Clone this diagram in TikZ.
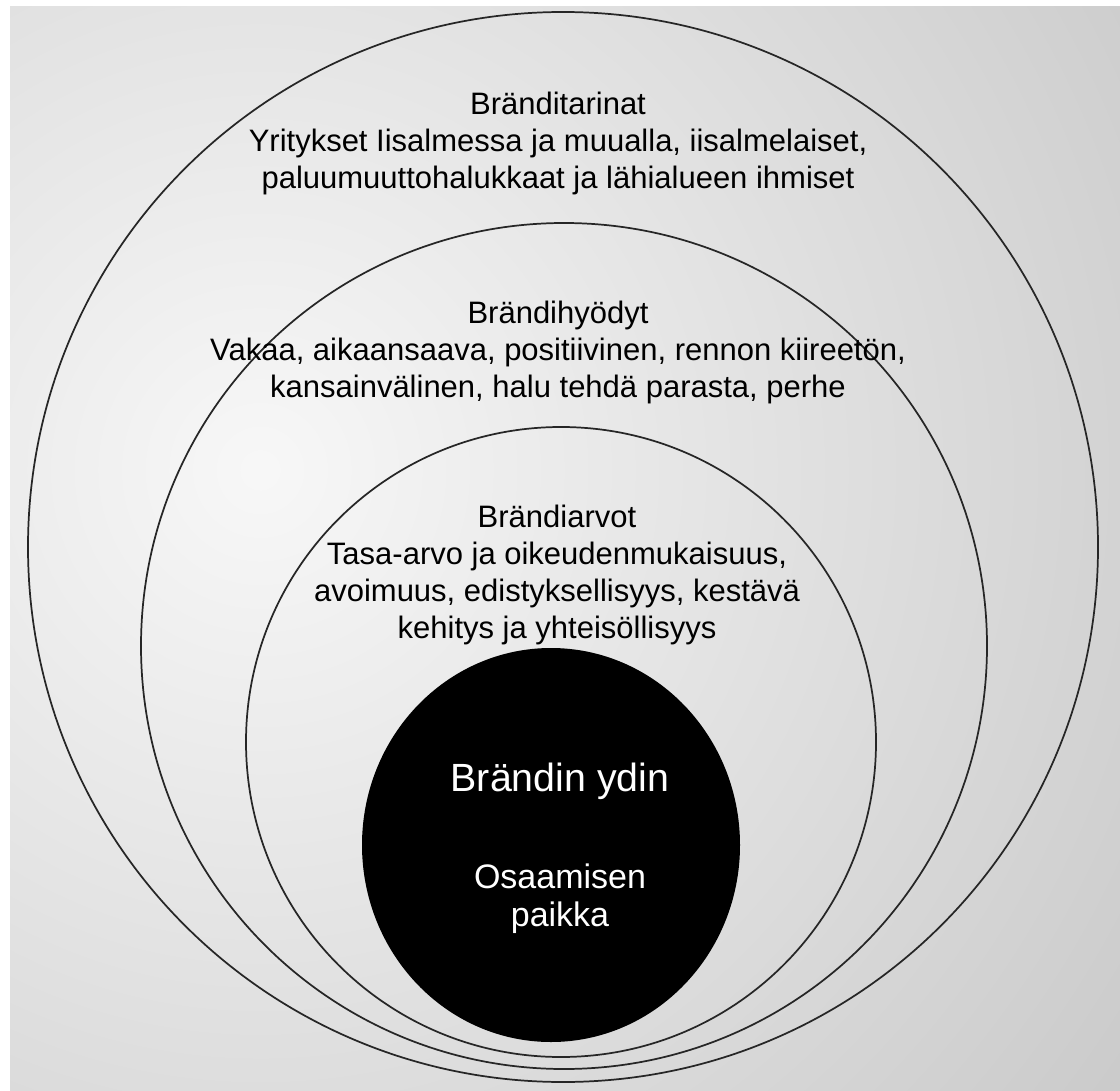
\documentclass[tikz,border=0pt]{standalone}
\usepackage{fontspec}
\setmainfont{Liberation Sans}
\begin{document}
\begin{tikzpicture}[x=0.75pt,y=-0.75pt,
  ring/.style={draw=black!85,line width=1.3pt},
  body/.style={align=center,text=black,font=\fontsize{23.25}{27.75}\selectfont,inner sep=0pt},
  coretitle/.style={align=center,text=white,font=\fontsize{29.5}{34}\selectfont,inner sep=0pt},
  coretext/.style={align=center,text=white,font=\fontsize{25.5}{28.5}\selectfont,inner sep=0pt}]
\useasboundingbox (0,0) rectangle (1120,1091);
\fill[white] (0,0) rectangle (1120,1091);
\begin{scope}
  \clip (10,7) rectangle (1120,1091);
  \shade[inner color=white!97!black, outer color=black!32] (260,470) circle (1750);
\end{scope}
% rings
\draw[ring] (563,547) circle (535);
\draw[ring] (564,646) circle (423);
\draw[ring] (561,742) circle (315);
\fill[black] (551,845) ellipse (189 and 197);
% texts
\node[body] (t1) at (558,143) {Bränditarinat\\Yritykset Iisalmessa ja muualla, iisalmelaiset,\\paluumuuttohalukkaat ja lähialueen ihmiset};
\node[body] (t2) at (558,352) {Brändihyödyt\\Vakaa, aikaansaava, positiivinen, rennon kiireetön,\\kansainvälinen, halu tehdä parasta, perhe};
\node[body] (t3) at (557,575) {Brändiarvot\\Tasa-arvo ja oikeudenmukaisuus,\\avoimuus, edistyksellisyys, kestävä\\kehitys ja yhteisöllisyys};
\node[coretitle] (c1) at (560,781) {Brändin ydin};
\node[coretext] (c2) at (560,899) {Osaamisen\\paikka};
\end{tikzpicture}
\end{document}
